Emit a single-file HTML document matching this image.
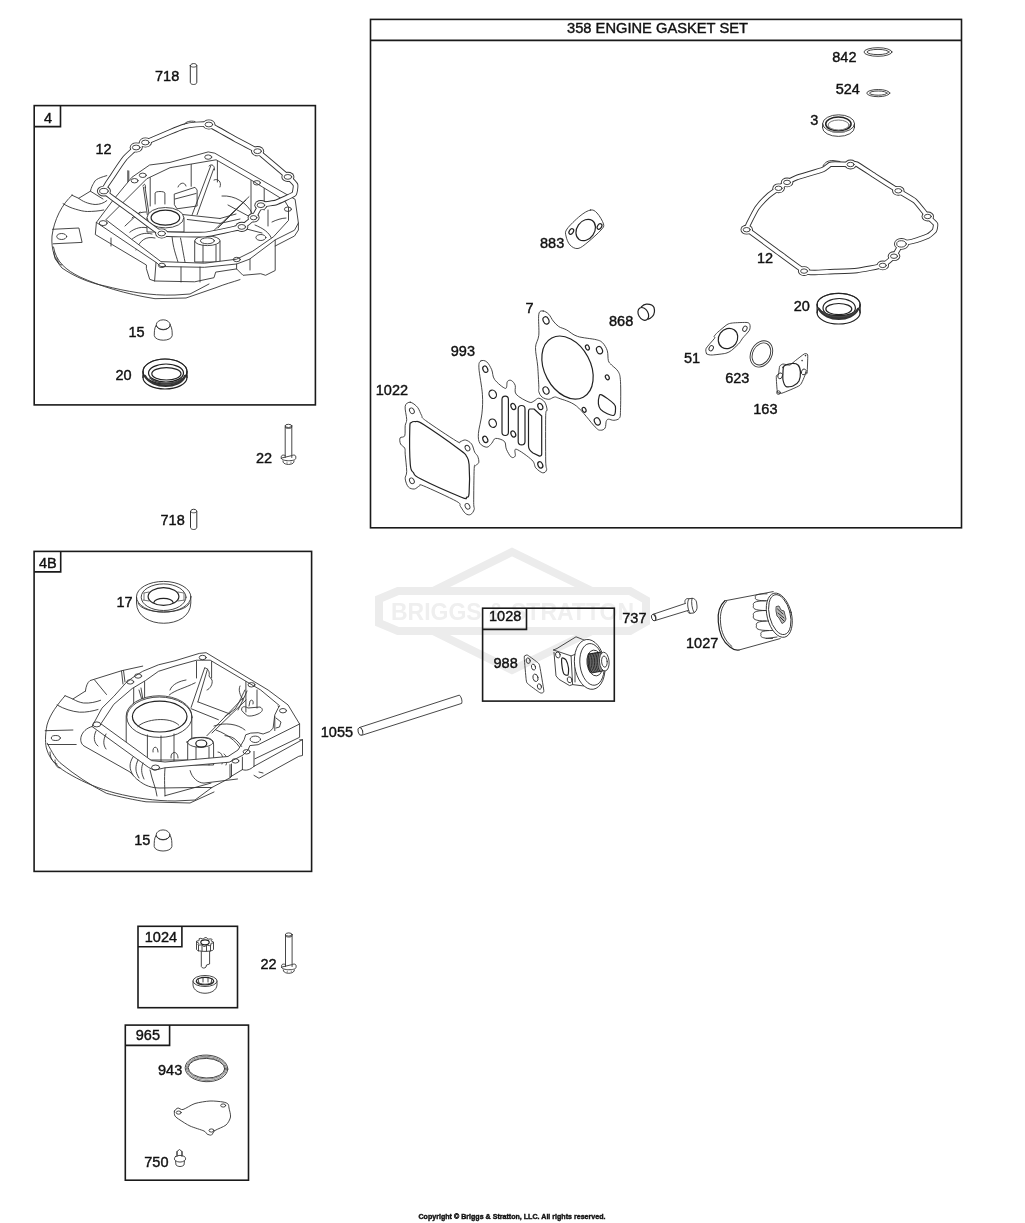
<!DOCTYPE html>
<html><head><meta charset="utf-8"><style>
html,body{margin:0;padding:0;background:#fff;width:1025px;height:1223px;overflow:hidden}
svg{display:block;will-change:transform}
text{font-family:"Liberation Sans",sans-serif;fill:#111;stroke:#111;stroke-width:0.4}
.bx{fill:none;stroke:#1a1a1a;stroke-width:1.6}
.ln{fill:none;stroke:#333;stroke-width:0.9;stroke-linejoin:round;stroke-linecap:round}
.lk{fill:none;stroke:#222;stroke-width:1.2;stroke-linejoin:round;stroke-linecap:round}
.lw{fill:#fff;stroke:#333;stroke-width:0.9;stroke-linejoin:round}
.wm{fill:none;stroke:#ececec;stroke-width:8;stroke-linejoin:miter}
</style></head><body>
<svg width="1025" height="1223" viewBox="0 0 1025 1223">

<g id="wm">
<path class="wm" d="M398,591 L630,591 L646,600 L646,622 L630,631 L398,631 L379,623 L379,599 Z"/>
<path class="wm" d="M433,591 L512,552 L592,591 M433,631 L512,670 L592,631"/>
<text x="391" y="620" font-size="23.5" font-weight="bold" style="fill:#efefef;stroke:none" textLength="243" lengthAdjust="spacingAndGlyphs">BRIGGS &amp; STRATTON</text>
</g>
<rect class="bx" x="34.2" y="105.6" width="281.2" height="299.3"/>
<path class="bx" d="M34.2,126.6 H60.5 V105.6"/>
<rect class="bx" x="34.1" y="551.4" width="277.5" height="320"/>
<path class="bx" d="M34.1,571.9 H60.7 V551.4"/>
<rect class="bx" x="370.5" y="19.4" width="591" height="508.4"/>
<path class="bx" d="M370.5,40.4 H961.5"/>
<rect class="bx" x="482.6" y="608.2" width="131.7" height="92.9"/>
<path class="bx" d="M482.6,629.4 H526.5 V608.2"/>
<rect class="bx" x="138" y="926.3" width="99.5" height="81.4"/>
<path class="bx" d="M138,946.8 H181.9 V926.3"/>
<rect class="bx" x="125.3" y="1025.1" width="123.2" height="155.1"/>
<path class="bx" d="M125.3,1045.4 H169.6 V1025.1"/>
<g id="p4"><path class="ln" d="M72.3,195 C62,204 54,220 52,236 C51,250 55,260 62,268 C75,277 90,283 105,286 C125,291 150,296 175,295 L190,294 L209,284" /><path class="ln" d="M53.5,247 C56,262 66,270 80,277 C100,286 125,294 155,298.7 L186,298 L215,288 C225,284 233,282 240,279.6" /><path class="ln" d="M54,252 C54,258 56,262 59,262 M57,258 C57,262 59,265 62,265" /><path class="ln" d="M71.7,195.1 L78.7,198.3 C82,201 88,204 95.1,204.5 C100,204.5 104,203 106.8,200.6" /><path class="ln" d="M63.1,203.7 C67,206 71,208 75.6,209.2 C80,210.5 84,211.5 87.3,211.5 C93,211.5 99,211 103.7,210" /><path class="ln" d="M78.7,198.3 L90.4,191.2 C91.5,187 92.5,185 93.6,183.4 C94.5,181.5 95.5,180 96.7,179.5 C99,178 102,177 106.8,175.6 M90.4,191.2 L103,199" /><path class="ln" d="M52.5,229.3 L78.9,228 L82.1,242.4 L53.2,243.8" /><ellipse class="ln" cx="61.7" cy="236.5" rx="5" ry="3" /><path class="ln" d="M191.2,162 V186.3 M217.4,159 V182 M251,180 V215 M264.2,188 V210 M150.2,177.6 V206 M127.8,170.7 V184.4 M128.8,171 V184" /><path class="ln" d="M210.7,165.9 L192.2,214.6 M213.7,168.8 L197.1,214.6 M209,166 C212,163 215,166 214.5,170" /><path class="ln" d="M174.6,194 L195,187.3 L197.1,190 L197.1,206 L177,208.8 L174.6,205 Z M175,199 L196,193.5" /><path class="ln" d="M178,187 C180,182 185,182 186,186 M214,180 C218,178 222,182 220,187" /><path class="ln" d="M155.1,204 V193 C155.5,191 164.5,191 164.9,193 V204" /><path class="ln" d="M183.4,214.6 L220,218.5 M187.3,219.5 L220,223.4 M220,218.5 L236,214 M220,223.4 L240,219" /><path class="ln" d="M249,196.7 L213.5,230.9 M246,200 L218,228" /><path class="ln" d="M143.4,187.3 L147.3,214.6 M145,187 L149,214 M143,186 C144,183 146,184 145.5,188" /><path class="ln" d="M129.8,232.2 C135,228 142,226 149.3,228.3 M131,240 C138,234 145,232 152,234 M136,250 C140,240 146,236 155,238 M125,226 L140,212 M132,218 C136,214 140,212 146,212" /><path class="ln" d="M180.5,238 C182,245 183,252 185,262 M172,236 C173,248 176,255 178,262" /><path class="ln" d="M222,196 C235,195 247,203 252,213 M255,225 C262,228 270,232 272,240 M228,205 L252,218 M235,226 L262,233" /><path class="ln" d="M268,226 L268,210 M272,222 C276,220 282,218 286,218" /><path class="lw" d="M147,217.7 V232 L184,232 V217.7 Z" /><ellipse class="lw" cx="165.4" cy="217.7" rx="18.4" ry="10.2" /><ellipse class="lk" cx="165.4" cy="217.7" rx="14.3" ry="7.5" /><path class="lw" d="M194.7,240.8 V262 H220 V240.8 Z" /><ellipse class="lw" cx="207.4" cy="240.8" rx="12.6" ry="4.8" /><ellipse class="ln" cx="207.4" cy="240.8" rx="7" ry="3" /><path class="ln" d="M203,245 V262 M216,245 V262" /><path d="M96.4,222.4 L112.8,200.5 L131.9,177.3 L149.6,165.0 L170.0,162.4 L208.2,151.9 L214.8,153.2 L295.1,199.3 L298.4,223.0 L294.5,230.2 L275.2,239.9 L249.5,259.2 L236.6,264.0 L204.4,267.3 L160.9,266.5 L156.1,262.4 Z M105.9,219.7 L146.9,178.7 L170.0,167.7 L216.1,159.8 L250.3,179.5 L284.6,200.6 L288.5,207.2 L288.5,220.4 L273.6,236.7 L252.7,251.2 L236.6,259.2 L204.4,263.2 L160.9,261.6 Z" fill="#fff" fill-rule="evenodd" stroke="#333" stroke-width="0.9" stroke-linejoin="round"/><ellipse class="ln" cx="103.2" cy="223.1" rx="4" ry="2.5" /><ellipse class="ln" cx="134.6" cy="180.7" rx="3.5" ry="2.2" /><ellipse class="ln" cx="142.8" cy="175.3" rx="3.5" ry="2.2" /><ellipse class="ln" cx="208.2" cy="157.1" rx="3.5" ry="2.2" /><ellipse class="ln" cx="256.9" cy="182.8" rx="3.5" ry="2.2" /><ellipse class="ln" cx="287.9" cy="209.2" rx="3.5" ry="2.2" /><ellipse class="ln" cx="260.9" cy="237.5" rx="5" ry="3" /><ellipse class="ln" cx="161.9" cy="265.4" rx="3.5" ry="2.2" /><ellipse class="ln" cx="236.8" cy="259.5" rx="3.5" ry="2.2" /><path class="ln" d="M96.4,222.4 L95.3,234.5 L146.4,265 L146.4,268.7 L149.7,279.3 L154.6,281 L194.7,281.8 L214,277.7 L215.7,272.1 L236.6,268.9 L243,275.3 L260.7,273.7 L265.6,275.3 L275.2,270.5 L275.2,239.9" /><path class="ln" d="M298.4,223 V230 L294.5,236 L275.2,246 M181,267 V282 M200,267 V282 M250,259 V270 M111,238 V246 M156,262.4 L154.6,281 M236.6,264 V269" /><path d="M103.9,191.1 C102.9,189.3 110.9,178.7 112.0,177.0 C113.1,175.3 123.8,159.5 125.0,158.0 C126.2,156.5 135.2,148.3 136.2,147.5 C137.2,146.7 143.7,143.3 145.4,142.5 C147.1,141.7 168.1,132.8 170.0,132.0 C171.9,131.2 182.7,126.9 184.0,126.5 C185.3,126.1 194.8,124.6 196.0,124.5 C197.2,124.4 207.0,123.8 208.9,124.5 C210.8,125.2 232.6,137.7 235.0,139.0 C237.4,140.3 255.0,149.3 257.6,151.2 C260.2,153.1 286.0,175.2 287.9,176.9 C289.8,178.6 295.2,184.1 295.5,185.0 C295.8,185.9 295.0,193.1 294.0,194.0 C293.0,194.9 277.7,201.9 276.0,202.5 C274.3,203.1 262.0,204.4 260.9,205.2 C259.8,206.0 254.6,216.6 253.6,217.7 C252.6,218.8 244.2,226.1 241.8,226.9 C239.4,227.7 209.0,234.2 205.0,234.5 C201.0,234.8 165.3,234.6 161.7,233.5 C158.0,232.4 134.9,214.1 132.0,212.0 C129.1,209.9 104.9,192.8 103.9,191.1 Z" fill="none" stroke="#333" stroke-width="5.6" stroke-linejoin="round"/><ellipse cx="103.9" cy="191.1" rx="7.0" ry="5.4" fill="#333"/><ellipse cx="136.2" cy="147.5" rx="6.5" ry="5.1000000000000005" fill="#333"/><ellipse cx="145.4" cy="142.5" rx="6.5" ry="5.1000000000000005" fill="#333"/><ellipse cx="208.9" cy="124.5" rx="6.5" ry="5.1000000000000005" fill="#333"/><ellipse cx="257.6" cy="151.2" rx="6.5" ry="5.1000000000000005" fill="#333"/><ellipse cx="287.9" cy="176.9" rx="6.5" ry="5.1000000000000005" fill="#333"/><ellipse cx="260.9" cy="205.2" rx="6.5" ry="5.1000000000000005" fill="#333"/><ellipse cx="253.6" cy="217.7" rx="6.0" ry="4.800000000000001" fill="#333"/><ellipse cx="241.8" cy="226.9" rx="6.5" ry="5.1000000000000005" fill="#333"/><ellipse cx="161.7" cy="233.5" rx="6.5" ry="5.1000000000000005" fill="#333"/><path d="M103.9,191.1 C102.9,189.3 110.9,178.7 112.0,177.0 C113.1,175.3 123.8,159.5 125.0,158.0 C126.2,156.5 135.2,148.3 136.2,147.5 C137.2,146.7 143.7,143.3 145.4,142.5 C147.1,141.7 168.1,132.8 170.0,132.0 C171.9,131.2 182.7,126.9 184.0,126.5 C185.3,126.1 194.8,124.6 196.0,124.5 C197.2,124.4 207.0,123.8 208.9,124.5 C210.8,125.2 232.6,137.7 235.0,139.0 C237.4,140.3 255.0,149.3 257.6,151.2 C260.2,153.1 286.0,175.2 287.9,176.9 C289.8,178.6 295.2,184.1 295.5,185.0 C295.8,185.9 295.0,193.1 294.0,194.0 C293.0,194.9 277.7,201.9 276.0,202.5 C274.3,203.1 262.0,204.4 260.9,205.2 C259.8,206.0 254.6,216.6 253.6,217.7 C252.6,218.8 244.2,226.1 241.8,226.9 C239.4,227.7 209.0,234.2 205.0,234.5 C201.0,234.8 165.3,234.6 161.7,233.5 C158.0,232.4 134.9,214.1 132.0,212.0 C129.1,209.9 104.9,192.8 103.9,191.1 Z" fill="none" stroke="#fff" stroke-width="3.8" stroke-linejoin="round"/><ellipse cx="103.9" cy="191.1" rx="6.1" ry="4.5" fill="#fff"/><ellipse cx="136.2" cy="147.5" rx="5.6" ry="4.2" fill="#fff"/><ellipse cx="145.4" cy="142.5" rx="5.6" ry="4.2" fill="#fff"/><ellipse cx="208.9" cy="124.5" rx="5.6" ry="4.2" fill="#fff"/><ellipse cx="257.6" cy="151.2" rx="5.6" ry="4.2" fill="#fff"/><ellipse cx="287.9" cy="176.9" rx="5.6" ry="4.2" fill="#fff"/><ellipse cx="260.9" cy="205.2" rx="5.6" ry="4.2" fill="#fff"/><ellipse cx="253.6" cy="217.7" rx="5.1" ry="3.9000000000000004" fill="#fff"/><ellipse cx="241.8" cy="226.9" rx="5.6" ry="4.2" fill="#fff"/><ellipse cx="161.7" cy="233.5" rx="5.6" ry="4.2" fill="#fff"/><ellipse class="ln" cx="103.9" cy="191.1" rx="4.3" ry="2.7" /><ellipse class="ln" cx="136.2" cy="147.5" rx="3.8" ry="2.4" /><ellipse class="ln" cx="145.4" cy="142.5" rx="3.8" ry="2.4" /><ellipse class="ln" cx="208.9" cy="124.5" rx="3.8" ry="2.4" /><ellipse class="ln" cx="257.6" cy="151.2" rx="3.8" ry="2.4" /><ellipse class="ln" cx="287.9" cy="176.9" rx="3.8" ry="2.4" /><ellipse class="ln" cx="260.9" cy="205.2" rx="3.8" ry="2.4" /><ellipse class="ln" cx="253.6" cy="217.7" rx="3.3" ry="2.1" /><ellipse class="ln" cx="241.8" cy="226.9" rx="3.8" ry="2.4" /><ellipse class="ln" cx="161.7" cy="233.5" rx="3.8" ry="2.4" /><path class="ln" d="M184,124.5 C186,121.5 190,120.5 195,121.5" /></g>
<g id="p4b"><path class="ln" d="M65,695.8 C58,704 50,714 47,725 C45,735 45,745 47,750 C50,760 58,768 71,775 C85,783 100,789 115,793 C135,798 155,801 175,801 L195,800 L211.9,787.5" /><path class="ln" d="M47.2,743.2 C52,752 56,760 62,764.3 C75,775 90,785 106.5,793.3 C120,797 135,800 146,801.8 L190,803 L214,792" /><path class="ln" d="M50,752 C50,758 53,763 57,764 M55,760 C55,765 57,768 60,768" /><path class="ln" d="M65,695.7 L72.9,699 C76,701 80,702.5 83.5,703 C90,703.5 96,702 100.6,700.3 M72.9,699 L85.4,691.1" /><path class="ln" d="M57.1,705 C64,709 72,711.5 79.5,712.2 C86,712.5 93,711 98,709.5" /><path class="ln" d="M85.4,691.1 C86,686 87.5,682.5 90,680.6 L121.7,670.7 L142.7,666.1 M94.6,680 L106.5,694.5 M121.5,671 L123,684 M123.5,670.5 L125,682" /><path class="ln" d="M45.2,730.7 L72.9,730 M47.9,744.5 L76.2,744.5" /><ellipse class="ln" cx="55.8" cy="738" rx="4.5" ry="2.5" /><path class="ln" d="M133.7,684 V705 M144.6,674 V700 M196.5,661 V678 M211.6,661 V678 M245.9,681.3 V712 M257,690 V708" /><path class="ln" d="M204.7,667.8 L191.1,707.4 M207.5,669.1 L197.9,701.9 M205,668 C208,668 210,672 209,676 L212,680 C213,684 210,689 207,690" /><path class="ln" d="M169.2,695 C175,690 185,688 195.2,682.8 M170,690 C172,684 180,681 186,680" /><path class="ln" d="M191.1,708.7 L218.4,719.7 M197.9,701.9 L230,714" /><path class="ln" d="M243.1,698 L206.9,735.7 M246,700 L212,733 M243,700 C240,695 238,690 240,686" /><path class="ln" d="M216,730 C230,735 240,745 242,752 M214,726 C225,722 238,724 245,730" /><path class="ln" d="M278,706 C282,710 285,718 283,724 M288,712 C290,716 290,722 288,726" /><path class="ln" d="M139,690 L142,700 M141,688 L143,700" /><path class="lw" d="M126.2,716 V745 L150,760 L191.8,760 V716 A32.8,20.2 0 0 0 126.2,716 Z" /><ellipse class="ln" cx="159.4" cy="717.2" rx="32.6" ry="20.2" /><ellipse class="lk" cx="159.7" cy="716.6" rx="27.3" ry="15.4" /><path class="ln" d="M137.8,726.5 C145,719 170,716 178.8,725.1" /><path class="ln" d="M147.4,735 V762 M161,736 V763 M174,734 V762" /><path class="ln" d="M153,752 C152,746 158,745 158,752 M171,758 C170,751 178,750 178,758" /><path class="lw" d="M187.7,745 V765 H213.6 V745 C214,738 207,737 200,737.4 C193,737.4 187,738 187.7,745 Z" /><path class="ln" d="M187,742 C190,736 211,736 213,742 C213,748 190,750 187,742 Z" /><ellipse class="lk" cx="201.3" cy="743.6" rx="5.5" ry="3.6" /><path class="ln" d="M196,747 V765 M209,747 V765 M218,752 C222,752 224,758 222,764 M224,754 C227,756 228,760 226,765" /><path d="M92.0,726.5 L101.9,708.2 L113.8,696.4 L125.6,683.2 L132.2,677.9 L142.7,671.3 L158.5,664.8 L175.0,660.8 L199.3,653.4 L206.1,652.7 L268.1,690.0 L288.0,704.9 L299.6,724.0 L258.2,744.7 L249.9,745.6 L248.0,750.0 L243.1,755.0 L229.2,762.2 L165.0,767.8 L154.2,770.2 L148.7,767.5 Z M100.9,723.8 L113.8,704.3 L132.2,688.5 L145.4,680.6 L158.5,671.3 L175.0,666.1 L196.5,660.2 L210.2,660.2 L260.7,690.0 L279.7,705.8 L278.1,708.2 L274.8,714.9 L273.1,728.1 L269.8,731.5 L263.1,734.0 L258.2,732.7 L250.7,733.1 L245.7,734.8 L244.1,739.8 L238.0,750.0 L228.0,756.5 L165.0,762.0 L151.5,760.6 Z" fill="#fff" fill-rule="evenodd" stroke="#333" stroke-width="0.9" stroke-linejoin="round"/><ellipse class="ln" cx="96.8" cy="724.4" rx="4" ry="2.5" /><ellipse class="ln" cx="130.2" cy="681.9" rx="3.5" ry="2.2" /><ellipse class="ln" cx="138.1" cy="676" rx="3.5" ry="2.2" /><ellipse class="ln" cx="202.7" cy="657.5" rx="3.5" ry="2.2" /><ellipse class="ln" cx="251.5" cy="684.8" rx="3.5" ry="2.2" /><ellipse class="ln" cx="283" cy="710.7" rx="3.5" ry="2.2" /><ellipse class="ln" cx="255.3" cy="739.3" rx="5.2" ry="3.2" /><ellipse class="ln" cx="246.6" cy="751.8" rx="3.5" ry="2.2" /><ellipse class="ln" cx="235.4" cy="760.9" rx="3.5" ry="2.2" /><ellipse class="ln" cx="155.6" cy="767.5" rx="4" ry="2.5" /><path class="ln" d="M299.6,724 V737.3 L254.9,758.8 M302.5,739.8 H299.6 M302.1,739.8 L254,766.3 M302.5,739.8 V755.5 L298.8,756.3 L259,778.3 L254,775.4 M263,773 L259,772" /><path class="ln" d="M242.4,757.2 V769.6 M254,751.4 V766.3 M242.4,769.6 C246,771 250,770 254,766.3 M230,764.6 V777.1 M231.5,764 V776.5 M230,777.1 L242.4,769.6" /><path class="ln" d="M274.8,716.5 V730.6 M276,718 L281,722 L279.5,727 L276,728" /><path class="ln" d="M241.6,709.9 C241,706 245,706 248,708 L260,707 C264,709 262.5,712 258,714 C254,716 249,716.5 247.4,715.7 L244,713 Z M249,706 L250,701 C252,699 254,701 253,704" /><path class="ln" d="M225,735.6 C230,736 234,738 235.8,739.8 C238,742 240,744 241.6,746.4" /><path class="ln" d="M244.9,690 C241,698 238,705 235,709.1 L225,716.5 M247,691 C244,698 241,704 238,710" /><path class="ln" d="M92,726.5 C80,730 78,742 84,746 L130,772 C134,776 136,779 138.1,780.1" /><path class="ln" d="M96,731 C93,737 94,743 98,746 M106,734 C103,740 103,745 106,749 M133,757 C129,763 129,769 133,775 M138,760 C135,766 135,772 139,778 M143,763 C141,768 141,773 144,779" /><path class="ln" d="M138.1,780.1 C145,786 152,788 160,788 L196,787.5 L211.9,787.5 L230.6,777.5" /><path class="ln" d="M190.1,770.6 C192,778 198,783 204,783.1 L237.5,779 M165,795.7 L211,783.1" /><path class="ln" d="M150,770 C152,780 156,788 157,796 M165,768 C164,780 165,790 165,796" /></g>
<path class="ln" d="M410.3,402.2 C412.4,402.4 415.6,405.1 417.5,407.3 C419.4,409.5 420.2,413.2 421.6,415.4 C423.0,417.6 419.8,416.2 425.6,420.5 C431.4,424.8 450.5,437.5 456.3,441.0 C462.1,444.5 458.9,441.7 460.4,441.5 C461.9,441.3 463.6,439.6 465.5,440.0 C467.4,440.4 470.1,442.0 471.6,444.0 C473.1,446.0 473.7,450.1 474.7,452.2 C475.7,454.2 477.0,454.6 477.7,456.3 C478.4,458.0 479.1,460.9 478.8,462.4 C478.5,463.9 476.5,464.5 475.7,465.5 C474.9,466.5 474.5,462.5 474.2,468.6 C473.9,474.7 473.7,495.5 473.7,502.3 C473.7,509.1 474.7,507.4 474.2,509.4 C473.7,511.4 472.1,513.8 470.6,514.5 C469.2,515.2 467.2,514.9 465.5,513.5 C463.8,512.1 461.9,508.4 460.4,506.3 C458.9,504.2 462.4,504.6 456.3,501.2 C450.2,497.8 429.7,488.4 423.6,485.9 C417.5,483.3 421.0,485.4 419.5,485.9 C418.0,486.4 416.3,488.8 414.4,489.0 C412.5,489.2 409.8,488.6 408.3,486.9 C406.8,485.2 405.5,481.4 405.2,478.8 C404.9,476.2 406.7,475.7 406.7,471.6 C406.7,467.5 405.5,458.1 405.2,454.2 C404.9,450.3 405.5,449.8 404.7,448.1 C403.9,446.4 401.4,445.7 400.6,444.0 C399.8,442.3 399.4,439.2 400.1,437.9 C400.8,436.5 403.9,437.9 404.7,435.9 C405.5,433.8 404.9,428.3 405.2,425.6 C405.5,422.9 406.7,422.7 406.7,419.5 C406.7,416.3 404.6,409.1 405.2,406.2 C405.8,403.3 408.2,402.0 410.3,402.2 Z" />
<path class="lk" d="M415.4,421.6 C417.4,421.9 416.1,419.8 423.6,424.6 C431.1,429.4 453.2,444.9 460.4,450.2 C467.5,455.5 465.1,453.9 466.5,456.3 C467.9,458.7 468.7,458.4 469.1,464.5 C469.5,470.6 469.5,487.7 469.1,493.1 C468.7,498.6 467.8,496.5 466.5,497.2 C465.2,497.9 469.1,500.3 461.4,497.2 C453.7,494.1 428.5,482.9 420.5,478.8 C412.5,474.7 415.1,475.0 413.4,472.6 C411.7,470.2 410.9,472.0 410.3,464.5 C409.7,457.0 409.6,434.7 409.8,427.7 C410.0,420.7 410.4,423.6 411.3,422.6 C412.2,421.6 413.3,421.3 415.4,421.6 Z" />
<ellipse class="ln" cx="411.9" cy="410.8" rx="2.2" ry="3" transform="rotate(-30 411.9 410.8)" />
<ellipse class="ln" cx="467.5" cy="448.1" rx="2.2" ry="3" transform="rotate(-30 467.5 448.1)" />
<ellipse class="ln" cx="411.9" cy="480.8" rx="2.2" ry="3" transform="rotate(-30 411.9 480.8)" />
<ellipse class="ln" cx="467.5" cy="506.3" rx="2.2" ry="3" transform="rotate(-30 467.5 506.3)" />
<path class="ln" d="M480.9,360.9 C482.2,359.9 485.0,360.4 486.8,361.9 C488.6,363.4 490.4,366.8 491.7,369.7 C493.0,372.6 492.3,376.4 494.6,379.5 C496.9,382.6 503.3,388.1 505.4,388.4 C507.5,388.7 506.4,382.8 507.4,381.5 C508.4,380.2 510.0,379.9 511.3,380.5 C512.6,381.1 514.4,383.1 515.2,385.4 C516.0,387.7 513.9,391.5 516.2,394.3 C518.5,397.1 526.0,401.0 529.0,402.1 C532.0,403.2 532.3,401.8 533.9,401.1 C535.5,400.5 537.0,398.0 538.8,398.2 C540.6,398.4 543.3,400.1 544.7,402.1 C546.1,404.1 546.9,407.7 547.1,410.0 C547.3,412.3 545.9,407.3 545.7,415.8 C545.5,424.3 545.6,452.0 545.7,461.0 C545.9,470.0 547.1,467.8 546.6,469.8 C546.1,471.8 544.5,473.1 542.7,472.8 C540.9,472.5 537.6,470.0 535.8,467.9 C534.0,465.8 535.2,463.1 531.9,460.0 C528.6,456.9 519.0,449.8 516.2,449.2 C513.4,448.6 516.0,454.8 515.2,456.1 C514.4,457.4 512.8,458.2 511.3,457.1 C509.8,456.0 507.5,451.8 506.4,449.2 C505.2,446.6 506.2,443.2 504.4,441.4 C502.6,439.6 497.7,438.1 495.6,438.4 C493.5,438.7 493.2,441.8 491.7,443.3 C490.2,444.8 488.8,447.2 486.8,447.2 C484.8,447.2 481.3,445.6 479.9,443.3 C478.5,441.0 478.1,438.4 478.4,433.5 C478.7,428.6 481.2,420.4 481.9,413.9 C482.6,407.4 482.9,402.0 482.4,394.3 C481.9,386.6 479.1,373.4 478.9,367.8 C478.6,362.2 479.6,361.9 480.9,360.9 Z" />
<ellipse class="lk" cx="485.3" cy="369.2" rx="2.3" ry="3.3" transform="rotate(-25 485.3 369.2)" />
<ellipse class="lk" cx="492.7" cy="394.3" rx="3.6" ry="4.3" transform="rotate(-25 492.7 394.3)" />
<ellipse class="lk" cx="492.7" cy="423.2" rx="3.6" ry="4.3" transform="rotate(-25 492.7 423.2)" />
<ellipse class="lk" cx="485.3" cy="439.4" rx="2.3" ry="3.3" transform="rotate(-25 485.3 439.4)" />
<ellipse class="lk" cx="513.3" cy="406.5" rx="2.2" ry="3.2" transform="rotate(-25 513.3 406.5)" />
<ellipse class="lk" cx="513.3" cy="434" rx="2.2" ry="3.2" transform="rotate(-25 513.3 434)" />
<ellipse class="lk" cx="540.3" cy="406.5" rx="2.3" ry="3.3" transform="rotate(-25 540.3 406.5)" />
<ellipse class="lk" cx="540.3" cy="464.9" rx="2.3" ry="3.3" transform="rotate(-25 540.3 464.9)" />
<rect class="lk" x="502" y="396.2" width="6.4" height="39.3" rx="3.2"/>
<rect class="lk" x="518.2" y="405.5" width="6.8" height="39.3" rx="3.4"/>
<path class="lk" d="M530,409 L534,409 L541.7,416 L541.7,454 Q541.7,456.1 539.5,456.1 L533,453 Q528.5,450 528.5,446 L528.5,412 Q528.5,409 530,409 Z" />
<path class="ln" d="M543.2,311.0 C544.9,311.0 547.1,312.6 548.8,314.3 C550.5,316.0 551.6,319.0 553.2,321.0 C554.9,323.0 556.5,325.0 558.7,326.5 C560.9,328.0 563.3,328.2 566.4,329.8 C569.5,331.4 572.5,334.8 577.5,336.4 C582.5,338.0 592.0,338.6 596.2,339.7 C600.4,340.8 600.9,341.1 602.8,343.0 C604.6,344.9 606.4,347.9 607.3,350.8 C608.2,353.8 607.7,358.3 608.4,360.7 C609.1,363.1 610.1,363.3 611.7,365.1 C613.4,366.9 616.8,368.9 618.3,371.7 C619.8,374.5 620.1,375.2 620.5,381.7 C620.9,388.1 620.7,404.3 620.5,410.4 C620.3,416.5 620.5,416.5 619.4,418.1 C618.3,419.8 615.7,420.1 613.9,420.3 C612.1,420.5 609.7,419.0 608.4,419.2 C607.1,419.4 606.8,419.9 606.2,421.4 C605.7,422.9 606.0,426.5 605.1,428.0 C604.2,429.5 602.3,430.4 600.6,430.2 C598.9,430.0 599.1,430.9 595.1,426.9 C591.1,422.9 582.5,410.8 576.4,406.0 C570.3,401.2 562.4,399.7 558.7,398.2 C555.0,396.7 555.9,396.9 554.3,397.1 C552.6,397.3 550.8,399.3 548.8,399.3 C546.8,399.3 543.8,398.4 542.1,397.1 C540.4,395.8 539.3,393.4 538.8,391.6 C538.2,389.8 539.0,390.3 538.8,386.1 C538.6,381.9 538.2,372.6 537.7,366.2 C537.2,359.8 535.3,352.6 535.5,347.5 C535.7,342.4 538.2,340.8 538.8,335.3 C539.3,329.8 538.1,318.4 538.8,314.3 C539.5,310.2 541.5,311.0 543.2,311.0 Z" />
<ellipse class="lk" cx="567.5" cy="367.6" rx="33.5" ry="23" transform="rotate(62 567.5 367.6)" />
<ellipse class="lk" cx="546" cy="320.4" rx="2.8" ry="3.8" transform="rotate(-25 546 320.4)" />
<ellipse class="lk" cx="599.5" cy="350.2" rx="2.8" ry="3.8" transform="rotate(-25 599.5 350.2)" />
<ellipse class="lk" cx="546" cy="390.5" rx="2.8" ry="3.8" transform="rotate(-25 546 390.5)" />
<ellipse class="lk" cx="597.3" cy="421.4" rx="2.8" ry="3.8" transform="rotate(-25 597.3 421.4)" />
<ellipse class="lk" cx="587.4" cy="347.5" rx="1.8" ry="2.6" transform="rotate(-25 587.4 347.5)" />
<ellipse class="lk" cx="607.3" cy="377.3" rx="1.8" ry="2.6" transform="rotate(-25 607.3 377.3)" />
<ellipse class="lk" cx="584.1" cy="409.8" rx="1.8" ry="2.6" transform="rotate(-25 584.1 409.8)" />
<path class="lk" d="M601.7,394.9 C604.2,396.0 611.6,401.4 613.9,403.8 C616.2,406.2 615.5,407.4 615.5,409.3 C615.5,411.2 615.3,414.6 613.9,415.3 C612.5,416.0 609.5,414.7 607.3,413.7 C605.1,412.7 602.1,410.9 600.6,409.3 C599.1,407.7 598.7,405.8 598.4,403.8 C598.1,401.8 598.5,398.6 599.0,397.1 C599.5,395.6 599.2,393.8 601.7,394.9 Z" />
<path class="ln" d="M590.5,210.0 C593.3,209.5 594.8,210.7 597.0,213.0 C599.2,215.3 602.8,221.2 603.5,224.0 C604.2,226.8 603.6,227.0 601.0,230.0 C598.4,233.0 591.8,238.9 588.0,242.0 C584.2,245.1 581.0,248.0 578.0,248.5 C575.0,249.0 572.0,247.1 570.0,245.0 C568.0,242.9 566.5,238.7 566.0,236.0 C565.5,233.3 564.7,232.3 567.0,229.0 C569.3,225.7 576.1,219.2 580.0,216.0 C583.9,212.8 587.7,210.5 590.5,210.0 Z" />
<ellipse class="lk" cx="585.7" cy="230" rx="8.8" ry="11.5" transform="rotate(35 585.7 230)" />
<ellipse class="lk" cx="571.3" cy="231.5" rx="2" ry="3" transform="rotate(35 571.3 231.5)" />
<ellipse class="lk" cx="599.5" cy="226.5" rx="2" ry="3" transform="rotate(35 599.5 226.5)" />
<path d="M746.7,229.7 C746.6,229.2 747.8,225.4 748.5,224.0 C749.2,222.6 755.7,209.8 757.0,208.0 C758.3,206.2 766.1,197.8 767.5,196.5 C768.9,195.2 777.3,189.2 778.6,188.3 C779.9,187.4 785.9,183.1 787.1,182.4 C788.3,181.7 794.2,178.5 796.6,177.6 C799.0,176.7 820.8,170.4 823.0,169.5 C825.2,168.6 829.2,164.9 830.0,164.5 C830.8,164.1 833.6,164.0 835.0,164.0 C836.4,164.0 849.2,164.5 850.6,164.5 C852.0,164.5 854.9,163.2 856.5,164.0 C858.1,164.8 872.2,174.2 875.0,176.0 C877.8,177.8 895.6,189.1 898.3,190.8 C901.0,192.5 913.0,199.3 915.0,201.0 C917.0,202.7 926.4,215.0 927.8,216.5 C929.2,218.0 935.1,223.1 935.5,224.0 C935.9,224.9 935.0,229.7 934.5,230.5 C934.0,231.3 929.5,235.3 928.0,236.0 C926.5,236.7 913.8,241.0 912.0,241.5 C910.2,242.0 902.7,242.9 901.5,243.9 C900.3,244.9 895.2,254.8 894.0,256.2 C892.8,257.6 885.3,264.4 882.8,265.4 C880.3,266.4 860.2,270.1 857.0,270.5 C853.8,270.9 837.8,271.4 835.0,271.5 C832.2,271.6 817.1,272.5 815.0,272.5 C812.9,272.5 806.8,272.6 804.1,271.1 C801.4,269.6 778.6,252.6 775.0,250.0 C771.4,247.4 751.9,232.9 750.0,231.5 C748.1,230.1 746.8,230.2 746.7,229.7 Z" fill="none" stroke="#333" stroke-width="5.4" stroke-linejoin="round"/><ellipse cx="746.7" cy="229.7" rx="6.2" ry="4.9" fill="#333"/><ellipse cx="778.6" cy="188.3" rx="6.2" ry="4.9" fill="#333"/><ellipse cx="787.1" cy="182.4" rx="6.2" ry="4.9" fill="#333"/><ellipse cx="850.6" cy="164.5" rx="6.2" ry="4.9" fill="#333"/><ellipse cx="898.3" cy="190.8" rx="6.2" ry="4.9" fill="#333"/><ellipse cx="927.8" cy="216.5" rx="6.2" ry="4.9" fill="#333"/><ellipse cx="901.5" cy="243.9" rx="7.5" ry="5.9" fill="#333"/><ellipse cx="894" cy="256.2" rx="6.2" ry="4.9" fill="#333"/><ellipse cx="882.8" cy="265.4" rx="6.2" ry="4.9" fill="#333"/><ellipse cx="804.1" cy="271.1" rx="6.2" ry="4.9" fill="#333"/><path d="M746.7,229.7 C746.6,229.2 747.8,225.4 748.5,224.0 C749.2,222.6 755.7,209.8 757.0,208.0 C758.3,206.2 766.1,197.8 767.5,196.5 C768.9,195.2 777.3,189.2 778.6,188.3 C779.9,187.4 785.9,183.1 787.1,182.4 C788.3,181.7 794.2,178.5 796.6,177.6 C799.0,176.7 820.8,170.4 823.0,169.5 C825.2,168.6 829.2,164.9 830.0,164.5 C830.8,164.1 833.6,164.0 835.0,164.0 C836.4,164.0 849.2,164.5 850.6,164.5 C852.0,164.5 854.9,163.2 856.5,164.0 C858.1,164.8 872.2,174.2 875.0,176.0 C877.8,177.8 895.6,189.1 898.3,190.8 C901.0,192.5 913.0,199.3 915.0,201.0 C917.0,202.7 926.4,215.0 927.8,216.5 C929.2,218.0 935.1,223.1 935.5,224.0 C935.9,224.9 935.0,229.7 934.5,230.5 C934.0,231.3 929.5,235.3 928.0,236.0 C926.5,236.7 913.8,241.0 912.0,241.5 C910.2,242.0 902.7,242.9 901.5,243.9 C900.3,244.9 895.2,254.8 894.0,256.2 C892.8,257.6 885.3,264.4 882.8,265.4 C880.3,266.4 860.2,270.1 857.0,270.5 C853.8,270.9 837.8,271.4 835.0,271.5 C832.2,271.6 817.1,272.5 815.0,272.5 C812.9,272.5 806.8,272.6 804.1,271.1 C801.4,269.6 778.6,252.6 775.0,250.0 C771.4,247.4 751.9,232.9 750.0,231.5 C748.1,230.1 746.8,230.2 746.7,229.7 Z" fill="none" stroke="#fff" stroke-width="3.6" stroke-linejoin="round"/><ellipse cx="746.7" cy="229.7" rx="5.3" ry="4.0" fill="#fff"/><ellipse cx="778.6" cy="188.3" rx="5.3" ry="4.0" fill="#fff"/><ellipse cx="787.1" cy="182.4" rx="5.3" ry="4.0" fill="#fff"/><ellipse cx="850.6" cy="164.5" rx="5.3" ry="4.0" fill="#fff"/><ellipse cx="898.3" cy="190.8" rx="5.3" ry="4.0" fill="#fff"/><ellipse cx="927.8" cy="216.5" rx="5.3" ry="4.0" fill="#fff"/><ellipse cx="901.5" cy="243.9" rx="6.6" ry="5.0" fill="#fff"/><ellipse cx="894" cy="256.2" rx="5.3" ry="4.0" fill="#fff"/><ellipse cx="882.8" cy="265.4" rx="5.3" ry="4.0" fill="#fff"/><ellipse cx="804.1" cy="271.1" rx="5.3" ry="4.0" fill="#fff"/><ellipse class="ln" cx="746.7" cy="229.7" rx="3.5" ry="2.2" /><ellipse class="ln" cx="778.6" cy="188.3" rx="3.5" ry="2.2" /><ellipse class="ln" cx="787.1" cy="182.4" rx="3.5" ry="2.2" /><ellipse class="ln" cx="850.6" cy="164.5" rx="3.5" ry="2.2" /><ellipse class="ln" cx="898.3" cy="190.8" rx="3.5" ry="2.2" /><ellipse class="ln" cx="927.8" cy="216.5" rx="3.5" ry="2.2" /><ellipse class="ln" cx="901.5" cy="243.9" rx="4.8" ry="3.2" /><ellipse class="ln" cx="894" cy="256.2" rx="3.5" ry="2.2" /><ellipse class="ln" cx="882.8" cy="265.4" rx="3.5" ry="2.2" /><ellipse class="ln" cx="804.1" cy="271.1" rx="3.5" ry="2.2" />
<path class="ln" d="M823,166 C825,162 828,160.5 833,160.5 L840,161.5" />
<ellipse class="lk" cx="838.6" cy="312.8" rx="21.5" ry="11.2" />
<ellipse class="lw" cx="838.6" cy="304.5" rx="21.5" ry="11.2" />
<ellipse class="lk" cx="838.6" cy="304.5" rx="21.5" ry="11.2" />
<path class="lk" d="M817.1,304.5 V312.8 M860.1,304.5 V312.8" />
<ellipse class="lk" cx="839.2" cy="308" rx="16.2" ry="9.5" />
<ellipse class="lk" cx="838.8" cy="309.1" rx="13" ry="5.6" />
<path class="lk" d="M819,309 C826,322 852,322 858,309" style="stroke-width:2.4;stroke:#333"/>
<path class="lk" d="M823,312 C830,318.5 848,318.5 855,312" style="stroke-width:1.6;stroke:#444"/>
<ellipse class="ln" cx="838.5" cy="127.6" rx="16" ry="8.8" />
<ellipse class="lw" cx="838.6" cy="123.6" rx="15.9" ry="8.8" />
<path class="ln" d="M822.6,123.6 V127.6 M854.5,123.6 V127.6" />
<ellipse class="lk" cx="838.4" cy="124" rx="12.7" ry="7" style="stroke-width:1.5"/>
<ellipse class="ln" cx="838.6" cy="125" rx="10.5" ry="5" style="stroke:#666"/>
<path class="ln" d="M831,131 C835,132.5 842,132.5 846,131" style="stroke:#888;stroke-width:1.5"/>
<ellipse class="ln" cx="878" cy="52" rx="14" ry="4.3" />
<ellipse class="ln" cx="878" cy="52" rx="11" ry="2.6" />
<ellipse class="ln" cx="878.3" cy="93.1" rx="11.5" ry="3.6" />
<ellipse class="ln" cx="878.3" cy="93.1" rx="8.8" ry="2.1" />
<path class="lk" d="M641.3,306.9 C643,305 645,304 646.7,304.1 C650,304 653,305 654,307.5 C655,311 654.6,314 652.5,316.4 C651,318 649.5,319 648.1,319.2" />
<ellipse class="lk" cx="643.3" cy="313.9" rx="4.8" ry="6.8" transform="rotate(-30 643.3 313.9)" />
<path class="ln" d="M706.7,353.9 C706.0,353.1 705.3,350.1 706.2,348.3 C707.1,346.5 713.7,339.6 714.6,338.2 C715.5,336.8 713.7,337.1 714.0,336.5 C714.3,335.9 716.3,333.6 716.8,333.1 C717.3,332.6 716.8,333.0 718.0,332.0 C719.2,331.0 725.2,325.8 726.9,324.7 C728.6,323.6 730.1,323.3 732.5,323.0 C734.9,322.7 745.1,322.3 747.1,322.5 C749.1,322.7 749.6,323.8 749.9,324.7 C750.2,325.6 750.3,328.7 749.4,330.3 C748.5,331.9 743.6,336.9 742.6,338.2 C741.6,339.5 740.9,340.9 740.4,341.6 C739.9,342.3 739.1,343.4 738.1,344.4 C737.1,345.4 732.8,349.5 731.4,350.5 C730.0,351.5 728.0,352.8 725.8,353.3 C723.6,353.8 714.5,354.9 712.3,355.0 C710.1,355.1 707.4,354.7 706.7,353.9 Z" />
<ellipse class="lk" cx="728" cy="338.5" rx="9.3" ry="10.6" transform="rotate(35 728 338.5)" />
<ellipse class="ln" cx="744.9" cy="328.7" rx="2" ry="2.8" transform="rotate(30 744.9 328.7)" />
<ellipse class="ln" cx="711.2" cy="348.3" rx="2" ry="2.8" transform="rotate(30 711.2 348.3)" />
<ellipse class="ln" cx="761.4" cy="353.9" rx="10.5" ry="13.8" transform="rotate(28 761.4 353.9)" />
<ellipse class="ln" cx="761.4" cy="353.9" rx="8.6" ry="11.6" transform="rotate(28 761.4 353.9)" />
<path class="ln" d="M777.4,392.0 C776.9,390.6 776.2,377.8 776.3,376.3 C776.4,374.8 778.2,374.9 778.5,374.1 C778.8,373.3 779.3,367.0 779.7,366.2 C780.1,365.4 782.2,364.1 783.0,364.0 C783.8,363.9 788.8,365.4 789.8,365.1 C790.8,364.8 794.2,361.5 795.4,360.6 C796.6,359.7 803.3,354.4 804.3,353.9 C805.3,353.4 807.5,353.4 807.7,355.0 C807.9,356.6 807.3,371.4 807.1,373.0 C806.9,374.6 806.1,373.1 805.5,374.1 C804.9,375.1 801.9,383.7 799.9,385.3 C797.9,386.9 783.8,392.6 781.9,393.2 C780.0,393.8 777.9,393.4 777.4,392.0 Z" />
<path class="lk" d="M784.0,366.0 C785.2,364.9 790.1,363.6 792.0,363.5 C793.9,363.4 796.9,363.9 798.0,365.0 C799.1,366.1 800.3,369.9 800.4,372.0 C800.5,374.1 800.0,379.1 799.0,381.0 C798.0,382.9 794.7,385.3 793.0,386.0 C791.3,386.7 787.3,387.2 786.0,386.4 C784.7,385.6 783.4,381.9 783.0,380.0 C782.6,378.1 782.9,373.9 783.0,372.0 C783.1,370.1 782.8,367.1 784.0,366.0 Z" />
<ellipse class="ln" cx="780.2" cy="375.8" rx="2.3" ry="3" transform="rotate(20 780.2 375.8)" />
<ellipse class="ln" cx="803.8" cy="371.9" rx="2.3" ry="3" transform="rotate(20 803.8 371.9)" />
<ellipse class="ln" cx="778.5" cy="392.6" rx="1.8" ry="1.8" />
<circle cx="783" cy="367.4" r="0.8" fill="#333"/><circle cx="802.1" cy="360.6" r="0.8" fill="#333"/><circle cx="805.5" cy="355.6" r="0.8" fill="#333"/>
<path class="ln" d="M190.3,65.7 V82.3 C190.3,85.2 196.8,85.2 196.8,82.3 V65.7 C196.8,62.8 190.3,62.8 190.3,65.7 Z" style="stroke-width:1"/>
<path class="ln" d="M190.3,65.7 C190.3,67.7 196.8,67.7 196.8,65.7" />
<path class="ln" d="M190.5,511.4 V527.3 C190.5,530.2 196.8,530.2 196.8,527.3 V511.4 C196.8,508.5 190.5,508.5 190.5,511.4 Z" style="stroke-width:1"/>
<path class="ln" d="M190.5,511.4 C190.5,513.4 196.8,513.4 196.8,511.4" />
<path class="ln" d="M155.8,325.8 C154.3,328.8 154.3,331.8 154.3,335.7 C155.3,341.7 171.2,341.7 172.2,335.7 C172.2,331.8 172.2,328.8 170.7,325.8" />
<ellipse class="ln" cx="163.25" cy="324.8" rx="6.949999999999989" ry="5" />
<path class="ln" d="M156.3,325.8 C158.3,330.8 168.2,330.8 170.2,325.8" />
<path class="ln" d="M155.7,835.9 C154.2,838.9 154.2,841.9 154.2,846.5 C155.2,852.5 170.9,852.5 171.9,846.5 C171.9,841.9 171.9,838.9 170.4,835.9" />
<ellipse class="ln" cx="163.05" cy="834.9" rx="6.8500000000000085" ry="5" />
<path class="ln" d="M156.2,835.9 C158.2,840.9 167.9,840.9 169.9,835.9" />
<ellipse class="lk" cx="165" cy="377.5" rx="22" ry="11.5" />
<ellipse class="lw" cx="165" cy="371.5" rx="22" ry="12.5" />
<ellipse class="lk" cx="165" cy="371.5" rx="22" ry="12.5" />
<path class="lk" d="M143,371.5 V377.5 M187,371.5 V377.5" />
<ellipse class="lk" cx="166" cy="373" rx="17.5" ry="9" />
<ellipse class="lk" cx="166.4" cy="373.8" rx="14.6" ry="6.2" />
<path class="lk" d="M145,376 C152,389 180,389 185,376" style="stroke-width:2.4;stroke:#333"/>
<path class="lk" d="M150,378 C157,385 176,385 182,378" style="stroke-width:1.6;stroke:#444"/>
<path class="ln" d="M285.2,425.9 V457.5" />
<path class="ln" d="M291.8,425.9 V457.5" />
<ellipse class="ln" cx="288.5" cy="425.9" rx="3.3" ry="1.6" />
<path class="ln" d="M285.2,427.4 C285.2,428.9 291.8,428.9 291.8,427.4" />
<path class="ln" d="M281.3,458.5 C280.3,454.0 284.2,455.0 285.2,455.5 M291.8,455.5 C292.8,455.0 296.7,454.0 295.7,458.5 C295.7,461.5 281.3,461.5 281.3,458.5 Z" />
<path class="ln" d="M283.0,461.0 L283.2,462.2 C284.5,465.2 292.5,465.2 293.8,462.2 L294.0,461.0" />
<path class="ln" d="M287.0,462.0 V463.7 M291.0,462.0 V463.7" style="stroke:#888"/>
<path class="ln" d="M285.5,934.5 V966.5" />
<path class="ln" d="M292.1,934.5 V966.5" />
<ellipse class="ln" cx="288.8" cy="934.5" rx="3.3" ry="1.6" />
<path class="ln" d="M285.5,936 C285.5,937.5 292.1,937.5 292.1,936" />
<path class="ln" d="M281.6,967.5 C280.6,963.0 284.5,964.0 285.5,964.5 M292.1,964.5 C293.1,964.0 297.0,963.0 296.0,967.5 C296.0,970.5 281.6,970.5 281.6,967.5 Z" />
<path class="ln" d="M283.3,970.0 L283.5,971.0 C284.8,974.0 292.8,974.0 294.1,971.0 L294.3,970.0" />
<path class="ln" d="M287.3,971.0 V972.5 M291.3,971.0 V972.5" style="stroke:#888"/>
<path class="ln" d="M136.5,597 V603 C137,630 190.5,630 190.8,603 V597" />
<ellipse class="ln" cx="163.7" cy="596.8" rx="27.2" ry="15.4" />
<ellipse class="ln" cx="163.6" cy="597.2" rx="22.4" ry="13.3" />
<path class="ln" d="M138,603 C142,615 185,615 189.5,603" />
<ellipse class="lk" cx="163.5" cy="596.5" rx="15.4" ry="8.9" />
<path class="lk" d="M153.8,602.5 C156,597 171,597 173.2,602.5" />
<path class="ln" d="M144,593 L149,592 M178,592 L184,593 M143,600 L149,601 M178,601 L185,600 M144,593 V600 M184,593 V600" style="stroke:#666"/>
<path class="lw" d="M196.5,942 V949.5 C197,952 213,952 213.5,949.5 V942" />
<path class="ln" d="M198.5,945.5 V951" />
<path class="ln" d="M202,945.5 V951" />
<path class="ln" d="M206.5,945.5 V951" />
<path class="ln" d="M210.5,945.5 V951" />
<path class="lw" d="M213.6,942.0 L213.4,942.9 L211.2,943.3 L210.6,943.9 L211.1,945.1 L209.8,945.7 L207.6,945.2 L206.3,945.4 L205.0,946.4 L203.3,946.3 L202.4,945.2 L201.3,944.9 L198.9,945.1 L197.8,944.4 L198.8,943.3 L198.4,942.7 L196.4,942.0 L196.6,941.1 L198.8,940.7 L199.4,940.1 L198.9,938.9 L200.2,938.3 L202.4,938.8 L203.7,938.6 L205.0,937.6 L206.7,937.7 L207.6,938.8 L208.7,939.1 L211.1,938.9 L212.2,939.6 L211.2,940.7 L211.6,941.3 Z" />
<ellipse class="lk" cx="205" cy="942.3" rx="4.2" ry="2.5" />
<path class="ln" d="M201.3,951.7 V966.5 C202,968.5 205,968.5 206,967 L206.5,965 L209.6,964 V951.5" />
<path class="ln" d="M193,981 V985 C194,996 216,996 217,985 V981" />
<ellipse class="lw" cx="205" cy="981" rx="12" ry="5.5" />
<ellipse class="lk" cx="205" cy="981.2" rx="8.8" ry="3.8" />
<path class="ln" d="M198,978.5 L199,983.5 M203,977.3 V982 M208,977.3 V982 M212,978.5 L211,983.5 M197,982 C201,985 209,985 213,982" />
<ellipse class="ln" cx="206.5" cy="1068.4" rx="21.3" ry="13.3" transform="rotate(2 206.5 1068.4)" />
<ellipse class="ln" cx="206.5" cy="1068.4" rx="20.1" ry="12.1" transform="rotate(2 206.5 1068.4)" style="stroke:#777"/>
<ellipse class="ln" cx="206.5" cy="1068.3" rx="19.2" ry="10.8" transform="rotate(2 206.5 1068.3)" style="stroke:#777"/>
<ellipse class="ln" cx="206.5" cy="1068.2" rx="18.3" ry="9.8" transform="rotate(2 206.5 1068.2)" />
<path class="ln" d="M174.5,1111.0 C174.9,1109.9 176.9,1108.2 178.0,1108.0 C179.1,1107.8 180.7,1110.1 183.0,1109.5 C185.3,1108.9 191.4,1104.6 195.0,1103.5 C198.6,1102.4 206.3,1101.2 210.0,1101.0 C213.7,1100.8 220.6,1101.6 223.0,1102.0 C225.4,1102.4 227.2,1103.2 228.0,1104.0 C228.8,1104.8 228.7,1106.3 229.0,1108.0 C229.3,1109.7 230.9,1114.7 230.5,1117.0 C230.1,1119.3 228.1,1123.2 226.0,1125.0 C223.9,1126.8 216.9,1129.2 215.0,1130.5 C213.1,1131.8 212.6,1134.5 211.5,1135.0 C210.4,1135.5 208.0,1134.5 207.0,1134.0 C206.0,1133.5 206.3,1132.1 204.0,1131.0 C201.7,1129.9 193.2,1127.5 190.0,1126.0 C186.8,1124.5 182.0,1121.3 180.0,1120.0 C178.0,1118.7 175.7,1117.2 175.0,1116.0 C174.3,1114.8 174.1,1112.1 174.5,1111.0 Z" />
<ellipse class="ln" cx="178.7" cy="1112.6" rx="2.5" ry="1.6" />
<ellipse class="ln" cx="223.2" cy="1105.5" rx="2.5" ry="1.6" />
<ellipse class="ln" cx="211.5" cy="1130.5" rx="2.5" ry="1.6" />
<path class="ln" d="M177,1155 V1151.5 L179.5,1149.5 L182,1151.5 V1155" />
<path class="ln" d="M175.5,1156.5 C174,1158 174,1160 175.5,1160.5 L176,1165 C178,1167 182,1167 184,1165 L184.5,1160.5 C186,1160 186,1158 184.5,1156.5 C182,1155 178,1155 175.5,1156.5 Z" />
<path class="ln" d="M177,1156.5 V1151.5 M182,1156.5 V1151.5 M176,1161 C178,1162.5 182,1162.5 184,1161" />
<path class="ln" d="M653,614.3 L685.2,603.5 M655,620.6 L688.2,610.4" />
<ellipse class="ln" cx="653.6" cy="617.6" rx="2" ry="3.3" transform="rotate(-20 653.6 617.6)" />
<path class="ln" d="M654.5,614 C656,615 656.5,619 655.5,620.5" />
<path class="ln" d="M685.2,603.5 C684,600 686,598 689,598.8 L692,598.3 C694,598 696,600 696.5,602 L697,606 C697.5,609 696,612 693.5,613 L690,613.3 C688,613 687,611 688.2,610.4" />
<path class="ln" d="M689,598.8 C687,601 687,608 690,613.3 M692,598.3 C691,602 692,609 694,612.5" />
<path class="ln" d="M359.5,727.5 L459.4,695.1 C461.5,697 462.5,701 461.7,703.4 L361.8,735.3" />
<ellipse class="ln" cx="360.4" cy="731.4" rx="2.3" ry="4" transform="rotate(-15 360.4 731.4)" />
<path class="ln" d="M724.9,600.8 L773.2,591.6 M739,650 L780.2,638.6" />
<path class="lk" d="M724.9,600.8 C719,606 717.5,614 718.3,622 C719,632 723,642 730,647 C733,649.5 736,650.5 739,650" />
<path class="ln" d="M726.5,601.5 C721,607 720,615 720.5,622 C721,632 725,641 732,646.5" />
<ellipse class="ln" cx="779.3" cy="615.2" rx="12.2" ry="22.6" transform="rotate(-14 779.3 615.2)" />
<ellipse class="ln" cx="779.8" cy="614.6" rx="10.4" ry="20.4" transform="rotate(-14 779.8 614.6)" />
<path class="ln" d="M767,593.8 C756.5,593.8 754.5,595.1999999999999 755.5,597.3 C754.5,599.4 756.5,600.8 767,600.8" />
<path class="ln" d="M765.5,600.8 C754.5,600.8 752.5,602.74 753.5,605.65 C752.5,608.56 754.5,610.5 765.5,610.5" />
<path class="ln" d="M766,610.5 C754.5,610.5 752.5,612.6 753.5,615.75 C752.5,618.9 754.5,621 766,621" />
<path class="ln" d="M768.5,621 C757.5,621 755.5,622.9 756.5,625.75 C755.5,628.6 757.5,630.5 768.5,630.5" />
<path class="ln" d="M772.5,630.5 C762,630.5 760,632.1 761,634.5 C760,636.9 762,638.5 772.5,638.5" />
<path class="ln" d="M766,638.5 L777,637" />
<path class="ln" d="M776.5,606.5 L779,606 L781,610 L784,611 L786,619 L784.5,622 L782,623.5 L779,618 L777,616 L776,611 Z" style="fill:#bbb;stroke:#444"/>
<path class="ln" d="M777.5,609 L783,614 M778,613 L784,618 M780,617 L784,621" style="stroke:#222"/>
<path class="ln" d="M524.8,655.9 C525.1,655.6 526.6,654.6 527.7,655.2 C528.8,655.8 537.4,662.2 538.4,663.2 C539.4,664.2 539.4,664.8 539.9,667.1 C540.4,669.4 543.6,688.4 543.8,690.5 C544.0,692.6 542.7,692.7 542.3,692.9 C541.9,693.1 540.6,693.2 539.4,692.4 C538.2,691.6 528.8,684.8 527.7,683.7 C526.6,682.7 526.5,681.9 526.2,679.8 C525.9,677.7 524.4,660.3 524.3,658.3 C524.2,656.3 524.5,656.2 524.8,655.9 Z" />
<ellipse class="ln" cx="528.2" cy="660.7" rx="2" ry="2.8" transform="rotate(-15 528.2 660.7)" />
<ellipse class="ln" cx="533.5" cy="667.1" rx="2" ry="3" transform="rotate(-15 533.5 667.1)" />
<ellipse class="ln" cx="535.5" cy="677.8" rx="2.5" ry="3.8" transform="rotate(-15 535.5 677.8)" />
<ellipse class="ln" cx="539.4" cy="686.6" rx="2" ry="2.8" transform="rotate(-15 539.4 686.6)" />
<path class="ln" d="M553.5,650 L557,648.5 L576,636.8 L582.3,639.3 L586,641" />
<path class="ln" d="M553.5,650 L571.1,655.9 L572.6,684.6 L569.6,685.6 L558.9,679.3 L556,675.9 L554,652.4" />
<path class="ln" d="M571.1,655.9 L586,650 M572.6,684.6 L584,686 M575,658 L575,682" />
<ellipse class="ln" cx="557.9" cy="654.9" rx="2.3" ry="3" transform="rotate(-15 557.9 654.9)" />
<ellipse class="ln" cx="569.6" cy="679.8" rx="2.3" ry="3" transform="rotate(-15 569.6 679.8)" />
<path class="lk" d="M562.0,658.0 C562.4,657.4 565.4,659.0 566.0,660.0 C566.6,661.0 568.3,666.5 568.5,668.0 C568.7,669.5 568.5,674.4 568.0,675.0 C567.5,675.6 564.6,674.9 564.0,674.0 C563.4,673.1 562.2,667.6 562.0,666.0 C561.8,664.4 561.6,658.6 562.0,658.0 Z" />
<ellipse class="lw" cx="589.7" cy="664.4" rx="15.1" ry="25.1" transform="rotate(-8 589.7 664.4)" />
<ellipse class="ln" cx="592" cy="664.4" rx="12" ry="21" transform="rotate(-8 592 664.4)" />
<ellipse class="ln" cx="595" cy="663" rx="8" ry="13" transform="rotate(-8 595 663)" />
<path class="ln" d="M588.5,654 L600.9,652 L602.8,671 L592.1,672.9 C588,670 587,658 588.5,654 Z" style="fill:#888;stroke:#222"/>
<path class="ln" d="M589.5,653.8 C587.3,658 587.3,668 590.3,672.6" style="stroke:#111;stroke-width:0.8"/>
<path class="ln" d="M591.1,653.55 C588.9,658 588.9,668 591.9,672.35" style="stroke:#111;stroke-width:0.8"/>
<path class="ln" d="M592.7,653.3 C590.5,658 590.5,668 593.5,672.1" style="stroke:#111;stroke-width:0.8"/>
<path class="ln" d="M594.3,653.05 C592.0999999999999,658 592.0999999999999,668 595.0999999999999,671.85" style="stroke:#111;stroke-width:0.8"/>
<path class="ln" d="M595.9,652.8 C593.6999999999999,658 593.6999999999999,668 596.6999999999999,671.6" style="stroke:#111;stroke-width:0.8"/>
<path class="ln" d="M597.5,652.55 C595.3,658 595.3,668 598.3,671.35" style="stroke:#111;stroke-width:0.8"/>
<path class="ln" d="M599.1,652.3 C596.9,658 596.9,668 599.9,671.1" style="stroke:#111;stroke-width:0.8"/>
<ellipse class="lw" cx="604.3" cy="661.6" rx="4.8" ry="9.4" transform="rotate(-5 604.3 661.6)" />
<ellipse class="ln" cx="604.4" cy="661.6" rx="2.8" ry="5.6" transform="rotate(-5 604.4 661.6)" />
<g font-size="14.5">
<text x="155" y="81">718</text>
<text x="44" y="122.7">4</text>
<text x="95.5" y="153.8">12</text>
<text x="128.5" y="337">15</text>
<text x="115.5" y="380.3">20</text>
<text x="256" y="462.6">22</text>
<text x="160.5" y="525.4">718</text>
<text x="39" y="567.6">4B</text>
<text x="116.5" y="606.8">17</text>
<text x="134.3" y="845.2">15</text>
<text x="144.8" y="941.8">1024</text>
<text x="260.5" y="968.8">22</text>
<text x="135.8" y="1040.4">965</text>
<text x="158" y="1074.9">943</text>
<text x="144.3" y="1166.5">750</text>
<text x="567" y="33.3" font-size="14.7">358 ENGINE GASKET SET</text>
<text x="832.3" y="61.7">842</text>
<text x="835.7" y="94">524</text>
<text x="810.3" y="125.3">3</text>
<text x="540" y="247.9">883</text>
<text x="757" y="262.8">12</text>
<text x="525.5" y="312.9">7</text>
<text x="450.8" y="356.1">993</text>
<text x="375.8" y="395.4">1022</text>
<text x="609" y="326.4">868</text>
<text x="684" y="363">51</text>
<text x="725.2" y="382.5">623</text>
<text x="753.3" y="413.5">163</text>
<text x="793.7" y="310.7">20</text>
<text x="489" y="620.8">1028</text>
<text x="493.5" y="668.3">988</text>
<text x="622.3" y="622.9">737</text>
<text x="686" y="647.8">1027</text>
<text x="320.8" y="736.6">1055</text>
</g>
<text x="418.5" y="1219.3" font-size="7.2" font-weight="bold" textLength="187" lengthAdjust="spacingAndGlyphs">Copyright © Briggs &amp; Stratton, LLC. All rights reserved.</text>
</svg>
</body></html>
